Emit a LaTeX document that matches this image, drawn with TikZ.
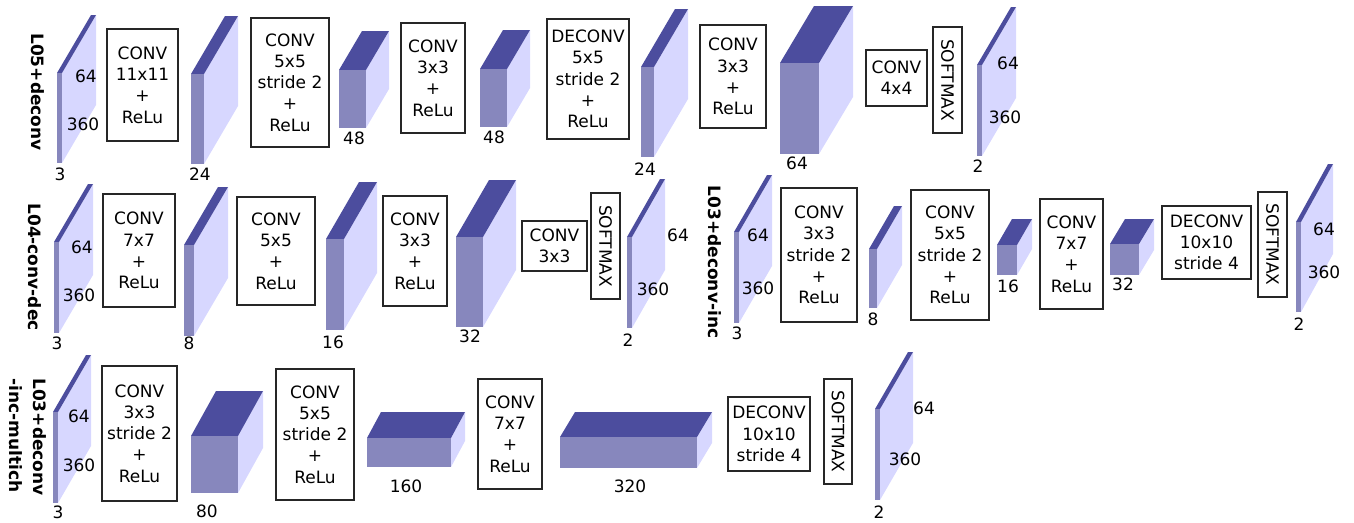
\documentclass[tikz,border=0pt]{standalone}
\usepackage{fontspec}
\setmainfont{DejaVu Sans}
\definecolor{topc}{HTML}{4C4D9E}
\definecolor{frontc}{HTML}{8787BD}
\definecolor{sidec}{HTML}{D7D7FF}
\newcommand\fs{\fontsize{17}{21.3}\selectfont}
% name, x, y (top-left of front face), w, h, dx, dy (depth offset, up)
\newcommand\cub[7]{%
  \fill[sidec] ({#2+#4},#3) -- ++(#6,-#7) -- ++(0,#5) -- ++(-#6,#7) -- cycle;
  \fill[topc] (#2,#3) -- ++(#4,0) -- ++(#6,-#7) -- ++(-#4,0) -- cycle;
  \fill[frontc] (#2,#3) rectangle ++(#4,#5);
  \coordinate (#1) at (#2,#3);
}
\newcommand\bx[6]{\node[box,minimum width={#4-#2},minimum height={#5-#3}] (#1) at ({(#2+#4)/2},{(#3+#5)/2}) {#6};}
\newcommand\smx[5]{\node[box,rotate=-90,minimum width={#5-#3},minimum height={#4-#2}] (#1) at ({(#2+#4)/2},{(#3+#5)/2}) {SOFTMAX};}
\begin{document}
\begin{tikzpicture}[x=1pt,y=-1pt,
  box/.style={draw=black!85,line width=1.3pt,fill=white,inner sep=0pt,align=center,font=\fs},
  lab/.style={inner sep=0pt,font=\fs},
  ttl/.style={inner sep=0pt,font=\fontsize{17}{24}\selectfont\bfseries,rotate=-90,align=left}]
\useasboundingbox (0,0) rectangle (1354,522);

% ---------------- Row 1 ----------------
\node[ttl] (t1) at (38,92) {L05+deconv};
\cub{c11}{57}{73}{5}{90}{34}{58}
\node[lab] (n11a) at (86,76) {64};
\node[lab] (n11b) at (83,124) {360};
\node[lab] (n11c) at (60,174) {3};
\bx{b11}{107}{29}{178}{141}{CONV\\11x11\\+\\ReLu}
\cub{c12}{191}{74}{13}{90}{34}{58}
\node[lab] (n12) at (200,174) {24};
\bx{b12}{251}{18}{329}{147}{CONV\\5x5\\stride 2\\+\\ReLu}
\cub{c13}{339}{70}{27}{58}{23}{39}
\node[lab] (n13) at (354,138) {48};
\bx{b13}{401}{23}{465}{133}{CONV\\3x3\\+\\ReLu}
\cub{c14}{480}{69}{27}{58}{23}{39}
\node[lab] (n14) at (494,137) {48};
\bx{b14}{547}{19}{629}{139}{DECONV\\5x5\\stride 2\\+\\ReLu}
\cub{c15}{641}{67}{13}{90}{34}{58}
\node[lab] (n15) at (645,169) {24};
\bx{b15}{700}{25}{766}{128}{CONV\\3x3\\+\\ReLu}
\cub{c16}{780}{63}{39}{91}{34}{57}
\node[lab] (n16) at (797,163) {64};
\bx{b16}{866}{50}{927}{106}{CONV\\4x4}
\smx{s1}{933}{27}{962}{133}
\cub{c17}{977}{65}{5}{91}{34}{58}
\node[lab] (n17a) at (1008,63) {64};
\node[lab] (n17b) at (1005,117) {360};
\node[lab] (n17c) at (978,166) {2};

% ---------------- Row 2 left ----------------
\node[ttl] (t2) at (35,267) {L04-conv-dec};
\cub{c21}{54}{242}{5}{91}{34}{58}
\node[lab] (n21a) at (82,247) {64};
\node[lab] (n21b) at (79,295) {360};
\node[lab] (n21c) at (57,343) {3};
\bx{b21}{103}{194}{175}{307}{CONV\\7x7\\+\\ReLu}
\cub{c22}{184}{245}{10}{91}{34}{58}
\node[lab] (n22) at (189,343) {8};
\bx{b22}{237}{197}{315}{305}{CONV\\5x5\\+\\ReLu}
\cub{c23}{326}{239}{18}{91}{33}{57}
\node[lab] (n23) at (333,342) {16};
\bx{b23}{383}{196}{447}{306}{CONV\\3x3\\+\\ReLu}
\cub{c24}{456}{237}{27}{90}{33}{57}
\node[lab] (n24) at (470,336) {32};
\bx{b24}{522}{221}{587}{271}{CONV\\3x3}
\smx{s2}{591}{193}{620}{299}
\cub{c25}{627}{237}{5}{91}{33}{58}
\node[lab] (n25a) at (678,235) {64};
\node[lab] (n25b) at (653,289) {360};
\node[lab] (n25c) at (628,340) {2};

% ---------------- Row 2 right ----------------
\node[ttl] (t3) at (715,262) {L03+deconv-inc};
\cub{c31}{734}{232}{5}{91}{33}{57}
\node[lab] (n31a) at (758,235) {64};
\node[lab] (n31b) at (758,288) {360};
\node[lab] (n31c) at (737,333) {3};
\bx{b31}{781}{188}{857}{322}{CONV\\3x3\\stride 2\\+\\ReLu}
\cub{c32}{869}{249}{8}{59}{25}{43}
\node[lab] (n32) at (873,319) {8};
\bx{b32}{911}{190}{989}{320}{CONV\\5x5\\stride 2\\+\\ReLu}
\cub{c33}{997}{245}{20}{30}{15}{26}
\node[lab] (n33) at (1008,286) {16};
\bx{b33}{1040}{199}{1103}{309}{CONV\\7x7\\+\\ReLu}
\cub{c34}{1110}{244}{29}{31}{15}{25}
\node[lab] (n34) at (1123,284) {32};
\bx{b34}{1162}{206}{1251}{279}{DECONV\\10x10\\stride 4}
\smx{s3}{1258}{192}{1287}{297}
\cub{c35}{1296}{222}{5}{90}{32}{58}
\node[lab] (n35a) at (1324,229) {64};
\node[lab] (n35b) at (1324,272) {360};
\node[lab] (n35c) at (1299,324) {2};

% ---------------- Row 3 ----------------
\node[ttl] (t4) at (28,437) {L03+deconv\\-inc-multich};
\cub{c41}{53}{412}{5}{91}{33}{57}
\node[lab] (n41a) at (79,416) {64};
\node[lab] (n41b) at (79,465) {360};
\node[lab] (n41c) at (58,512) {3};
\bx{b41}{102}{366}{177}{501}{CONV\\3x3\\stride 2\\+\\ReLu}
\cub{c42}{191}{436}{47}{57}{25}{45}
\node[lab] (n42) at (207,511) {80};
\bx{b42}{276}{369}{354}{500}{CONV\\5x5\\stride 2\\+\\ReLu}
\cub{c43}{367}{438}{84}{29}{14}{26}
\node[lab] (n43) at (406,486) {160};
\bx{b43}{478}{379}{542}{489}{CONV\\7x7\\+\\ReLu}
\cub{c44}{560}{437}{137}{31}{15}{25}
\node[lab] (n44) at (630,486) {320};
\bx{b44}{728}{397}{810}{471}{DECONV\\10x10\\stride 4}
\smx{s4}{824}{379}{852}{484}
\cub{c45}{875}{409}{5}{91}{33}{57}
\node[lab] (n45a) at (924,408) {64};
\node[lab] (n45b) at (905,459) {360};
\node[lab] (n45c) at (879,512) {2};
\end{tikzpicture}
\end{document}
